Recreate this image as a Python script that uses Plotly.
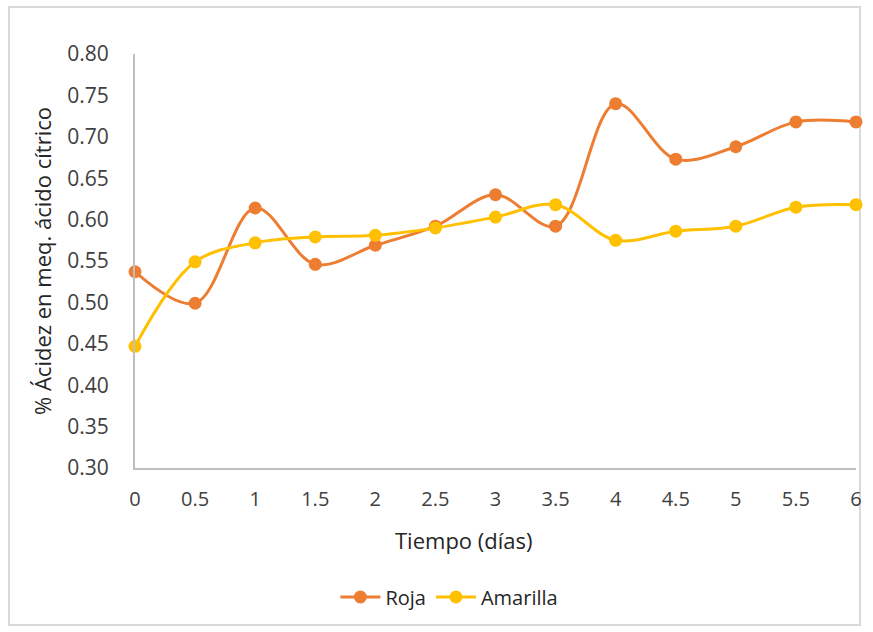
import plotly.graph_objects as go

# Tiempo (días)
dias = [0, 0.5, 1, 1.5, 2, 2.5, 3, 3.5, 4, 4.5, 5, 5.5, 6]

# % acidez (meq. ácido cítrico) por variedad
roja = [0.537, 0.499, 0.614, 0.546, 0.569, 0.592, 0.630, 0.592, 0.740, 0.673, 0.688, 0.718, 0.718]
amarilla = [0.447, 0.549, 0.572, 0.579, 0.581, 0.590, 0.603, 0.618, 0.575, 0.586, 0.592, 0.615, 0.618]

x_ticks = [0, 0.5, 1, 1.5, 2, 2.5, 3, 3.5, 4, 4.5, 5, 5.5, 6]
x_labels = ["0", "0.5", "1", "1.5", "2", "2.5", "3", "3.5", "4", "4.5", "5", "5.5", "6"]
y_ticks = [0.30, 0.35, 0.40, 0.45, 0.50, 0.55, 0.60, 0.65, 0.70, 0.75, 0.80]

ORANGE = "#ED7D31"
YELLOW = "#FFC000"
AXIS = "#BFBFBF"
TEXT = "#404040"

W, H = 873, 632
L, R, T, B = 135, 11, 54, 164
pw, ph = W - L - R, H - T - B

fig = go.Figure()
fig.add_trace(go.Scatter(
    x=dias, y=roja, name="Roja", mode="lines+markers",
    line=dict(color=ORANGE, width=3, shape="spline", smoothing=1.0),
    marker=dict(color=ORANGE, size=13), cliponaxis=False,
))
fig.add_trace(go.Scatter(
    x=dias, y=amarilla, name="Amarilla", mode="lines+markers",
    line=dict(color=YELLOW, width=3, shape="spline", smoothing=1.0),
    marker=dict(color=YELLOW, size=13), cliponaxis=False,
))

def px_x(p):
    return (p - L) / pw

def px_y(p):
    return (H - B - p) / ph

fig.update_layout(
    width=W, height=H,
    margin=dict(l=L, r=R, t=T, b=B),
    paper_bgcolor="white", plot_bgcolor="white",
    font=dict(family="Open Sans", color=TEXT),
    showlegend=True,
    legend=dict(
        orientation="h", x=px_x(452), y=px_y(597),
        xanchor="center", yanchor="middle",
        font=dict(size=20, color="#262626"),
        itemwidth=40, bgcolor="rgba(0,0,0,0)",
    ),
    xaxis=dict(
        range=[0, 6], tickvals=x_ticks, ticktext=x_labels,
        showgrid=False, zeroline=False,
        showline=True, linecolor=AXIS, linewidth=2,
        ticks="", tickfont=dict(size=20, family="Open Sans", color=TEXT),
        ticklabelstandoff=12,
    ),
    yaxis=dict(
        range=[0.30, 0.80], tickvals=y_ticks, tickformat=".2f",
        showgrid=False, zeroline=False,
        showline=True, linecolor=AXIS, linewidth=2,
        ticks="", tickfont=dict(size=21, family="Open Sans", color=TEXT),
        ticklabelstandoff=20,
        title=dict(text="% Ácidez en meq. ácido cítrico",
                   font=dict(size=22, color="#262626"), standoff=10),
    ),
    shapes=[dict(
        type="rect", xref="paper", yref="paper",
        x0=px_x(8), x1=px_x(866), y0=px_y(625), y1=px_y(7),
        line=dict(color="#D9D9D9", width=2), fillcolor="rgba(0,0,0,0)",
        layer="below",
    )],
    annotations=[dict(
        text="Tiempo (días)", xref="paper", yref="paper",
        x=px_x(467), y=px_y(540), xanchor="center", yanchor="middle",
        showarrow=False, font=dict(size=22, color="#262626"),
    )],
)

fig.write_html("out.html")
